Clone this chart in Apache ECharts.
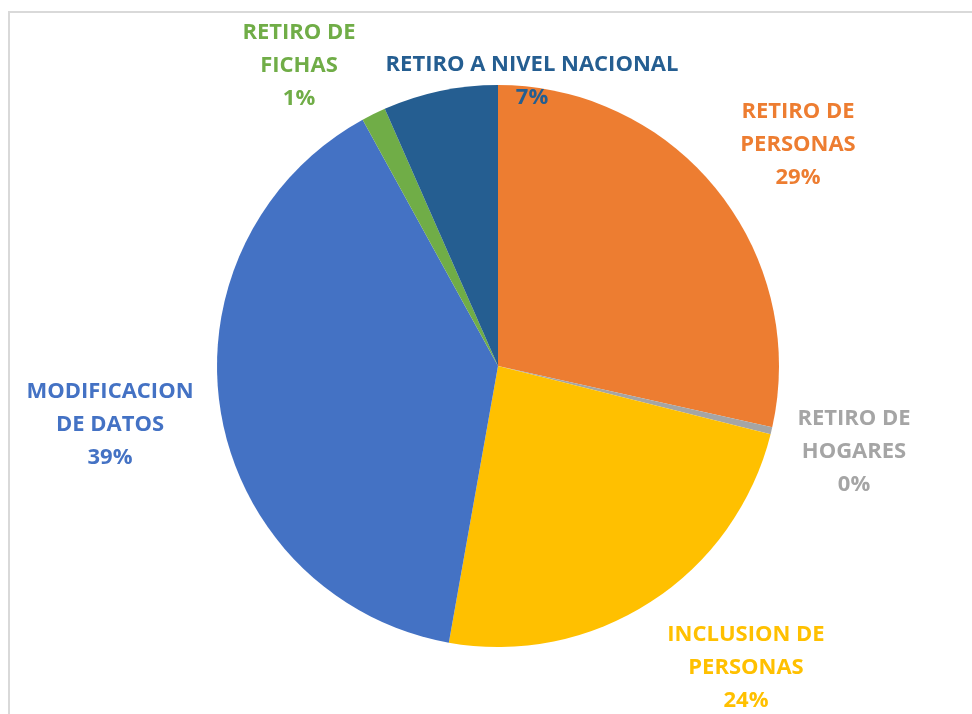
<!DOCTYPE html>
<html>
<head>
<meta charset="utf-8">
<script src="https://cdn.jsdelivr.net/npm/echarts@6/dist/echarts.min.js"></script>
<style>
  html, body { margin: 0; padding: 0; background: #fff; }
  #main { width: 972px; height: 714px; }
</style>
</head>
<body>
<div id="main"></div>
<script>
// categorias y porcentajes
var categorias = [
  "RETIRO DE\nPERSONAS",
  "RETIRO DE\nHOGARES",
  "INCLUSION DE\nPERSONAS",
  "MODIFICACION\nDE DATOS",
  "RETIRO DE\nFICHAS",
  "RETIRO A NIVEL NACIONAL"
];
var porcentajes = [28.5, 0.4, 23.9, 39.2, 1.4, 6.6];
var colores = ["#ED7D31", "#A5A5A5", "#FFC000", "#4472C4", "#70AD47", "#255E91"];

// donde va cada etiqueta (centro del bloque de texto)
var posEtiquetas = [
  [798, 145],
  [854, 452],
  [746, 668],
  [110, 425],
  [299, 66],
  [532, 81]
];

var myChart = echarts.init(document.getElementById("main"));

var datos = categorias.map(function (c, i) {
  return {
    name: c,
    value: porcentajes[i],
    itemStyle: { color: colores[i] },
    label: { color: colores[i] }
  };
});

var option = {
  backgroundColor: "#fff",
  animation: false,
  graphic: [
    {
      type: "rect",
      shape: { x: 9, y: 12, width: 1000, height: 800 },
      style: { fill: "none", stroke: "#d9d9d9", lineWidth: 2 },
      silent: true
    }
  ],
  series: [
    {
      type: "pie",
      center: [498, 366],
      radius: 281,
      startAngle: 90,
      clockwise: true,
      avoidLabelOverlap: false,
      itemStyle: { borderWidth: 0 },
      label: {
        show: true,
        position: "outside",
        fontFamily: "Open Sans",
        fontWeight: "bold",
        fontSize: 22,
        lineHeight: 33,
        align: "center",
        formatter: function (p) {
          return p.name + "\n" + Math.round(p.value) + "%";
        }
      },
      labelLine: { show: false },
      labelLayout: function (params) {
        var p = posEtiquetas[params.dataIndex];
        return {
          x: p[0],
          y: p[1],
          align: "center",
          verticalAlign: "middle"
        };
      },
      data: datos
    }
  ]
};

myChart.setOption(option);
</script>
</body>
</html>
